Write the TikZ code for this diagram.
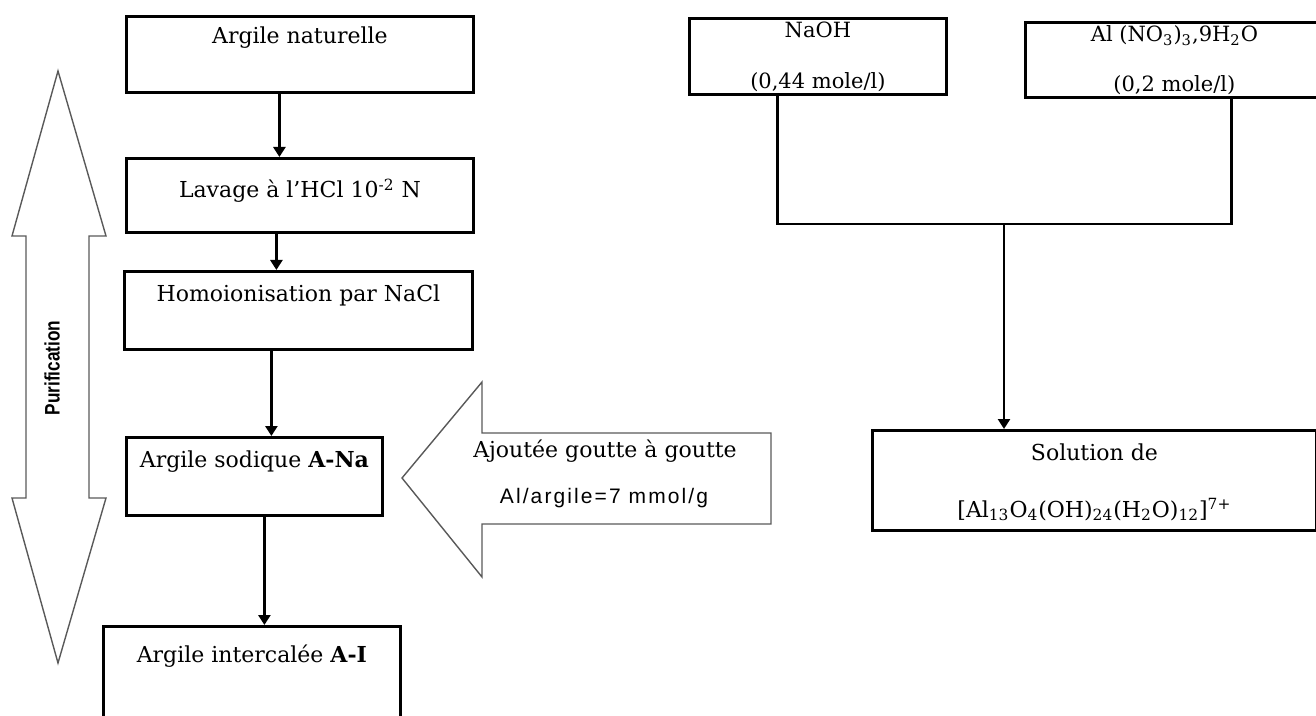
\documentclass[tikz,border=0pt]{standalone}
\usepackage{fontspec}
\setmainfont{DejaVu Serif}
\newfontfamily\sansesp[LetterSpace=10]{Liberation Sans}
\newfontfamily\etroite[FakeStretch=0.82]{Liberation Sans}
\usetikzlibrary{arrows.meta,positioning}

\begin{document}
\begin{tikzpicture}[x=0.5pt,y=-0.5pt,
  boite/.style={draw,line width=1.4pt,anchor=north west,inner sep=0pt},
  txt/.style={font=\fontsize{11}{13}\selectfont,inner sep=0pt,anchor=base},
  petit/.style={font=\fontsize{10.5}{12}\selectfont},
  fl/.style={line width=1.3pt,-{Triangle[length=5pt,width=6pt]}},
  trait/.style={line width=1.3pt},
  grosse/.style={draw=black!65,line width=0.7pt,line join=miter}]

\useasboundingbox (0,0) rectangle (1316,716);
\clip (0,0) rectangle (1316,716);

\node[boite,minimum width=173.5pt,minimum height=38pt] (nat) at (125,15) {};
\node[boite,minimum width=173.5pt,minimum height=37pt] (lav) at (125,157) {};
\node[boite,minimum width=174pt,minimum height=39pt] (hom) at (123,270) {};
\node[boite,minimum width=128pt,minimum height=39pt] (sod) at (125,436) {};
\node[boite,minimum width=148.5pt,minimum height=60pt] (int) at (102,625) {};

\node[txt] (tnat) at ([yshift=-14.5pt]nat.north) {Argile naturelle};
\node[txt] (tlav) at ([yshift=-20.5pt]lav.north) {Lavage à l’HCl 10\textsuperscript{-2} N};
\node[txt] (thom) at ([yshift=-16pt]hom.north) {Homoionisation par NaCl};
\node[txt] (tsod) at ([yshift=-15.5pt]sod.north) {Argile sodique \textbf{A-Na}};
\node[txt] (tint) at ([yshift=-18.5pt]int.north) {Argile intercalée \textbf{A-I}};

\coordinate (a1) at ([xshift=-10.25pt]nat.south);
\coordinate (a2) at ([xshift=-11.75pt]lav.south);
\coordinate (a3) at ([xshift=-13.5pt]hom.south);
\coordinate (a4) at ([xshift=5pt]sod.south);
\draw[fl] (a1) -- (a1 |- lav.north);
\draw[fl] (a2) -- (a2 |- hom.north);
\draw[fl] (a3) -- (a3 |- sod.north);
\draw[fl] (a4) -- (a4 |- int.north);

\draw[grosse] (58,71) -- (106,236) -- (89,236) -- (89,498) -- (106,498) -- (58,663)
  -- (12,498) -- (26,498) -- (26,236) -- (12,236) -- cycle;
\node[rotate=90,inner sep=0pt,font=\etroite\bfseries\fontsize{10.5}{12}\selectfont] (purif) at (52,368) {Purification};

\draw[grosse] (402,478) -- (482,382) -- (482,433) -- (771,433) -- (771,524) -- (482,524)
  -- (482,577) -- cycle;
\node[txt] (tajout) at (605,457) {Ajoutée goutte à goutte};
\node[txt,font=\sansesp\fontsize{10.5}{12}\selectfont] (tratio) at (604,503) {Al/argile=7 mmol/g};

\node[boite,minimum width=128.5pt,minimum height=38pt] (naoh) at (688,17) {};
\node[boite,minimum width=149pt,minimum height=37.5pt] (alno) at (1024,21) {};
\node[boite,minimum width=222pt,minimum height=50pt] (sol) at (871,429) {};

\node[txt,petit] (tnaoh) at ([yshift=-10.5pt]naoh.north) {NaOH};
\node[txt,petit] (cnaoh) at ([yshift=-36pt]naoh.north) {(0,44 mole/l)};
\node[txt,petit] (talno) at ([yshift=-10.5pt]alno.north) {Al (NO\textsubscript{3})\textsubscript{3},9H\textsubscript{2}O};
\node[txt,petit] (calno) at ([yshift=-35.5pt]alno.north) {(0,2 mole/l)};
\node[txt] (tsol) at ([yshift=-15.5pt]sol.north) {Solution de};
\node[txt] (fsol) at ([yshift=-44pt]sol.north) {[Al\textsubscript{13}O\textsubscript{4}(OH)\textsubscript{24}(H\textsubscript{2}O)\textsubscript{12}]\textsuperscript{7+}};

\coordinate (b1) at ([xshift=-20.25pt]naoh.south);
\coordinate (b2) at ([xshift=28.5pt]alno.south);
\coordinate (mix) at (1004,224);
\draw[trait] (b1) |- (mix) -| (b2);
\draw[fl] (mix) -- (mix |- sol.north);

\end{tikzpicture}
\end{document}
